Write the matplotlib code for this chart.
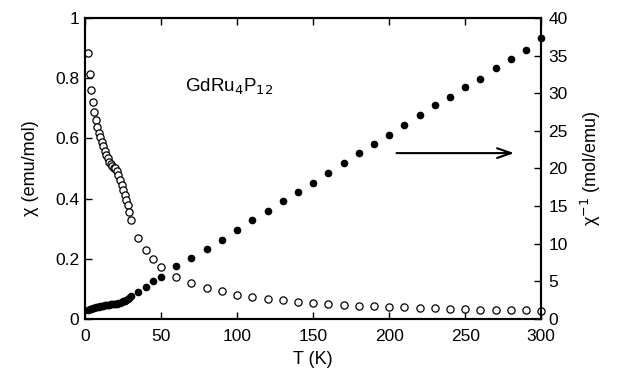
import matplotlib.pyplot as plt

plt.rcParams['font.family'] = ['Liberation Sans', 'DejaVu Sans']

# low-temperature dense data (1 K steps)
t_low = [2, 3, 4, 5, 6, 7, 8, 9, 10, 11, 12, 13, 14, 15, 16, 17, 18, 19, 20,
         21, 22, 23, 24, 25, 26, 27, 28, 29, 30]
chi_low = [0.884, 0.814, 0.761, 0.722, 0.689, 0.661, 0.639, 0.619, 0.605, 0.589,
           0.575, 0.559, 0.545, 0.534, 0.523, 0.515, 0.508, 0.502, 0.500, 0.490,
           0.478, 0.462, 0.445, 0.428, 0.412, 0.395, 0.379, 0.355, 0.330]
inv_low = [1.15, 1.25, 1.35, 1.42, 1.48, 1.53, 1.58, 1.62, 1.66, 1.70, 1.74,
           1.78, 1.82, 1.86, 1.89, 1.92, 1.95, 1.98, 2.00, 2.04, 2.09, 2.16,
           2.25, 2.34, 2.43, 2.53, 2.64, 2.80, 3.00]

# higher temperatures
t_high = [35, 40, 45, 50, 60, 70, 80, 90, 100, 110, 120, 130, 140, 150, 160,
          170, 180, 190, 200, 210, 220, 230, 240, 250, 260, 270, 280, 290, 300]
chi_high = [0.270, 0.229, 0.198, 0.174, 0.138, 0.118, 0.104, 0.091, 0.080, 0.072,
            0.066, 0.061, 0.055, 0.052, 0.050, 0.046, 0.044, 0.042, 0.040, 0.038,
            0.037, 0.035, 0.034, 0.032, 0.031, 0.030, 0.029, 0.028, 0.027]
inv_high = [3.6, 4.3, 5.0, 5.6, 7.0, 8.1, 9.3, 10.5, 11.8, 13.1, 14.4, 15.7, 16.9,
            18.1, 19.4, 20.7, 22.0, 23.3, 24.5, 25.8, 27.1, 28.4, 29.5, 30.8,
            31.9, 33.3, 34.5, 35.8, 37.4]

T = t_low + t_high
chi = chi_low + chi_high
inv_chi = inv_low + inv_high

fig = plt.figure(figsize=(6.25, 3.76), dpi=100)
ax = fig.add_axes([0.136, 0.152, 0.730, 0.800])
ax2 = ax.twinx()

ax.plot(T, chi, 'o', mfc='white', mec='black', mew=0.9, ms=5.2, clip_on=False, zorder=3)
ax2.plot(T, inv_chi, 'o', mfc='black', mec='black', ms=4.5, clip_on=False, zorder=3)

ax.set_xlim(0, 300)
ax.set_ylim(0, 1)
ax2.set_ylim(0, 40)

ax.set_xticks([0, 50, 100, 150, 200, 250, 300])
ax.set_yticks([0, 0.2, 0.4, 0.6, 0.8, 1])
ax.set_yticklabels(['0', '0.2', '0.4', '0.6', '0.8', '1'])
ax2.set_yticks(range(0, 41, 5))

ax.tick_params(axis='x', direction='in', top=True, labelsize=12.5, length=5, width=1, pad=7)
ax.tick_params(axis='y', direction='in', labelsize=12.5, length=5, width=1, pad=4)
ax2.tick_params(direction='in', labelsize=12.5, length=5, width=1, pad=5)
for a in (ax, ax2):
    for s in a.spines.values():
        s.set_linewidth(1.5)

ax.set_xlabel('T (K)', fontsize=13, labelpad=5)
ax.set_ylabel('χ (emu/mol)', fontsize=13, labelpad=12)
ax2.set_ylabel('χ$^{-1}$ (mol/emu)', fontsize=13, labelpad=8)

ax.text(95, 0.77, 'GdRu$_4$P$_{12}$', fontsize=13.5, ha='center', va='center')
ax.annotate('', xy=(284, 0.551), xytext=(203, 0.551),
            arrowprops=dict(arrowstyle='->,head_length=1.0,head_width=0.35',
                            lw=1.5, color='black'))

fig.savefig('out.png', dpi=100)
